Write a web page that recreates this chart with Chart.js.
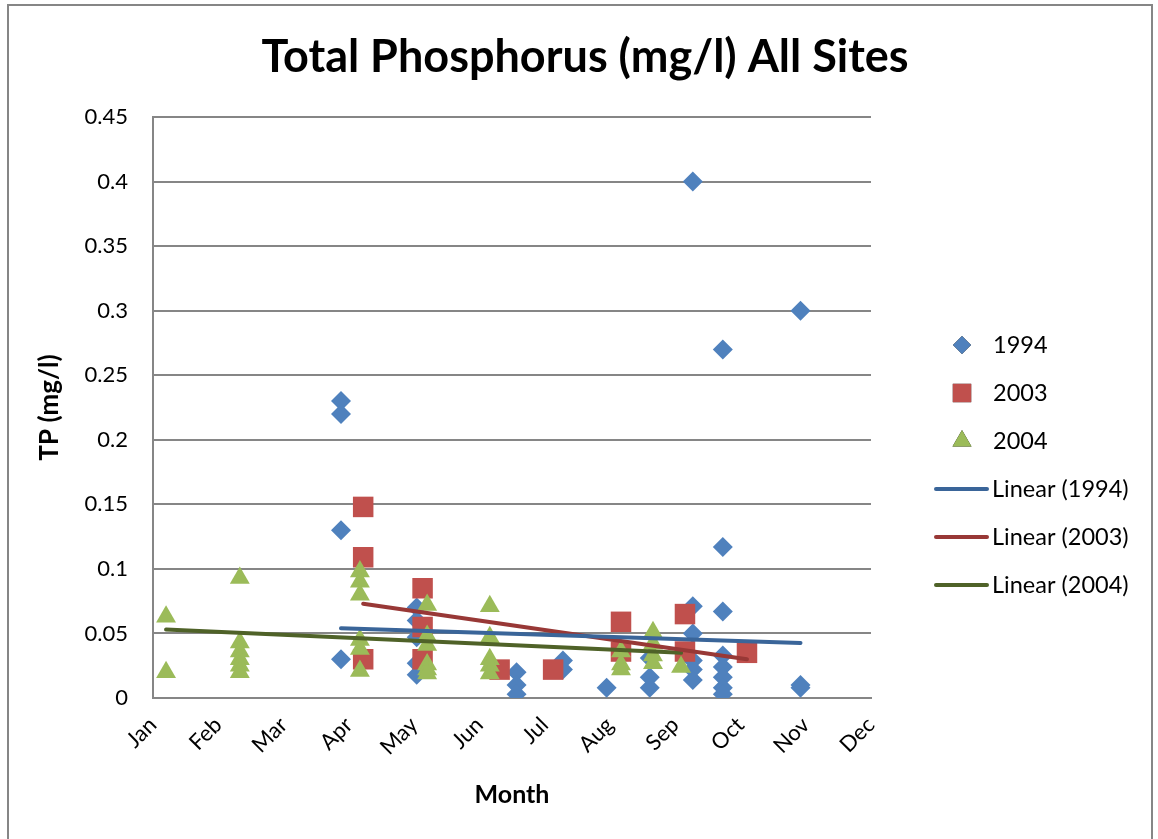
<!DOCTYPE html>
<html>
<head>
<meta charset="utf-8">
<style>
  body { margin: 0; background: #fff; }
  canvas { display: block; }
</style>
<script src="https://cdn.jsdelivr.net/npm/chart.js@4.4.1/dist/chart.umd.min.js"></script>
</head>
<body>
<canvas id="tpChart" width="1158" height="839"></canvas>
<script>
// month labels for x axis (x values are month index, 0 = Jan)
const months = ['Jan', 'Feb', 'Mar', 'Apr', 'May', 'Jun', 'Jul', 'Aug', 'Sep', 'Oct', 'Nov', 'Dec']
const yTicks = [0, 0.05, 0.1, 0.15, 0.2, 0.25, 0.3, 0.35, 0.4, 0.45]

// 1994
const x1994 = [2.88, 2.88, 2.88, 2.88, 4.04, 4.04, 4.04, 4.04, 4.04, 5.57, 5.57, 5.57, 6.28, 6.28, 6.95,
  7.61, 7.61, 7.61, 8.27, 8.27, 8.27, 8.27, 8.27, 8.27, 8.73, 8.73, 8.73, 8.73, 8.73, 8.73, 8.73, 8.73,
  9.92, 9.92, 9.92]
const y1994 = [0.23, 0.22, 0.13, 0.03, 0.07, 0.06, 0.047, 0.027, 0.018, 0.02, 0.01, 0.003, 0.029, 0.022, 0.008,
  0.031, 0.016, 0.008, 0.40, 0.071, 0.05, 0.029, 0.022, 0.014, 0.27, 0.117, 0.067, 0.033, 0.024, 0.016, 0.008, 0.003,
  0.30, 0.01, 0.008]

// 2003
const x2003 = [3.22, 3.22, 3.22, 4.13, 4.13, 4.13, 5.31, 6.13, 7.17, 7.17, 8.15, 8.15, 9.1]
const y2003 = [0.148, 0.109, 0.03, 0.085, 0.055, 0.03, 0.022, 0.022, 0.059, 0.036, 0.065, 0.036, 0.035]

// 2004
const x2004 = [0.2, 0.2, 1.33, 1.33, 1.33, 1.33, 1.33, 1.33, 3.17, 3.17, 3.17, 3.17, 3.17, 3.17,
  4.2, 4.2, 4.2, 4.2, 4.2, 4.2, 5.16, 5.16, 5.16, 5.16, 5.16, 7.17, 7.17, 7.17, 7.66, 7.66, 7.66, 7.66, 8.09]
const y2004 = [0.063, 0.02, 0.093, 0.043, 0.036, 0.03, 0.025, 0.02, 0.098, 0.09, 0.08, 0.045, 0.038, 0.021,
  0.072, 0.048, 0.041, 0.026, 0.022, 0.019, 0.071, 0.047, 0.03, 0.025, 0.019, 0.036, 0.026, 0.022, 0.051, 0.042, 0.033, 0.027, 0.024]

// trend line end points
const trendX1994 = [2.88, 9.92]
const trendY1994 = [0.054, 0.0426]
const trendX2003 = [3.22, 9.1]
const trendY2003 = [0.073, 0.030]
const trendX2004 = [0.2, 8.09]
const trendY2004 = [0.053, 0.035]

const pts = (xs, ys) => xs.map((x, i) => ({ x: x, y: ys[i] }))

const FONT = "Lato, 'Open Sans', sans-serif"
const gridGray = "#868686"

// border around the whole chart + legend
const frame = {
  id: "frame",
  beforeDraw(chart) {
    const ctx = chart.ctx
    ctx.save()
    ctx.fillStyle = "#fff"
    ctx.fillRect(0, 0, chart.width, chart.height)
    ctx.strokeStyle = gridGray
    ctx.lineWidth = 2
    ctx.strokeRect(8, 5, 1144, 850)
    ctx.restore()
  }
}

const sideLegend = {
  id: "sideLegend",
  afterDraw(chart) {
    const ctx = chart.ctx
    const sets = chart.data.datasets
    ctx.save()
    ctx.font = "23.5px " + FONT
    ctx.textBaseline = "middle"
    ctx.fillStyle = "#000"
    let y = 345
    sets.forEach((ds) => {
      if (ds.showLine) {
        ctx.strokeStyle = ds.borderColor
        ctx.lineWidth = 4
        ctx.lineCap = "round"
        ctx.beginPath()
        ctx.moveTo(936, y)
        ctx.lineTo(987, y)
        ctx.stroke()
        ctx.fillText(ds.label, 992, y)
      } else {
        Chart.helpers.drawPoint(ctx, {
          pointStyle: ds.pointStyle,
          radius: ds.legendRadius,
          borderWidth: 0
        }, 962, y)
        ctx.fillStyle = ds.backgroundColor
        ctx.fill()
        ctx.fillStyle = "#000"
        ctx.fillText(ds.label, 993, y)
      }
      y += 48
    })
    ctx.restore()
  }
}

const ctx = document.querySelector("#tpChart").getContext("2d")

let tpChart = new Chart(ctx, {
  type: "scatter",
  data: {
    datasets: [
      {
        label: "1994",
        data: pts(x1994, y1994),
        pointStyle: "rectRot",
        pointRadius: 10,
        legendRadius: 9,
        backgroundColor: "#4F81BD",
        borderWidth: 0,
        order: 3
      },
      {
        label: "2003",
        data: pts(x2003, y2003),
        pointStyle: "rect",
        pointRadius: 14.5,
        legendRadius: 13,
        backgroundColor: "#C0504D",
        borderWidth: 0,
        order: 2
      },
      {
        label: "2004",
        data: pts(x2004, y2004),
        pointStyle: "triangle",
        pointRadius: 11.5,
        legendRadius: 11,
        backgroundColor: "#9BBB59",
        borderWidth: 0,
        order: 1
      },
      {
        label: "Linear (1994)",
        data: pts(trendX1994, trendY1994),
        showLine: true,
        borderColor: "#3A6599",
        borderWidth: 4,
        pointRadius: 0,
        borderCapStyle: "round",
        order: 0
      },
      {
        label: "Linear (2003)",
        data: pts(trendX2003, trendY2003),
        showLine: true,
        borderColor: "#983836",
        borderWidth: 4,
        pointRadius: 0,
        borderCapStyle: "round",
        order: 0
      },
      {
        label: "Linear (2004)",
        data: pts(trendX2004, trendY2004),
        showLine: true,
        borderColor: "#4F6228",
        borderWidth: 4,
        pointRadius: 0,
        borderCapStyle: "round",
        order: 0
      }
    ]
  },
  options: {
    responsive: false,
    animation: false,
    layout: {
      padding: { left: 12, right: 0, top: 0, bottom: 0 }
    },
    scales: {
      x: {
        type: "linear",
        min: 0,
        max: 11,
        afterFit: (scale) => { scale.height = 141 },
        grid: { display: false, drawTicks: false },
        border: { display: true, color: gridGray, width: 2 },
        ticks: {
          stepSize: 1,
          autoSkip: false,
          minRotation: 45,
          maxRotation: 45,
          padding: 14,
          color: "#000",
          font: { family: FONT, size: 22 },
          callback: (v) => months[v]
        },
        title: {
          display: true,
          text: "Month",
          color: "#000",
          font: { family: FONT, size: 25, weight: "bold" },
          padding: { top: 0, bottom: 29 }
        }
      },
      y: {
        min: 0,
        max: 0.45,
        afterFit: (scale) => { scale.width = 141 },
        afterBuildTicks: (scale) => { scale.ticks = yTicks.map((v) => ({ value: v })) },
        grid: { color: gridGray, lineWidth: 2, drawTicks: false },
        border: { display: true, color: gridGray, width: 2 },
        ticks: {
          padding: 25,
          color: "#000",
          font: { family: FONT, size: 22 },
          callback: (v) => String(Number(v.toFixed(2)))
        },
        title: {
          display: true,
          text: "TP (mg/l)",
          color: "#000",
          font: { family: FONT, size: 26, weight: "bold" },
          padding: { top: 22, bottom: 0 }
        }
      },
      // empty right-hand box that keeps room for the legend
      side: {
        type: "linear",
        position: "right",
        afterFit: (scale) => { scale.width = 287 },
        grid: { display: false, drawTicks: false },
        border: { display: false },
        ticks: { display: false }
      }
    },
    plugins: {
      legend: { display: false },
      tooltip: { enabled: false },
      title: {
        display: true,
        text: "Total Phosphorus (mg/l) All Sites",
        color: "#000",
        font: { family: FONT, size: 45, weight: "bold", lineHeight: 1.2 },
        padding: { top: 30, bottom: 33 }
      }
    }
  },
  plugins: [frame, sideLegend]
})
</script>
</body>
</html>
